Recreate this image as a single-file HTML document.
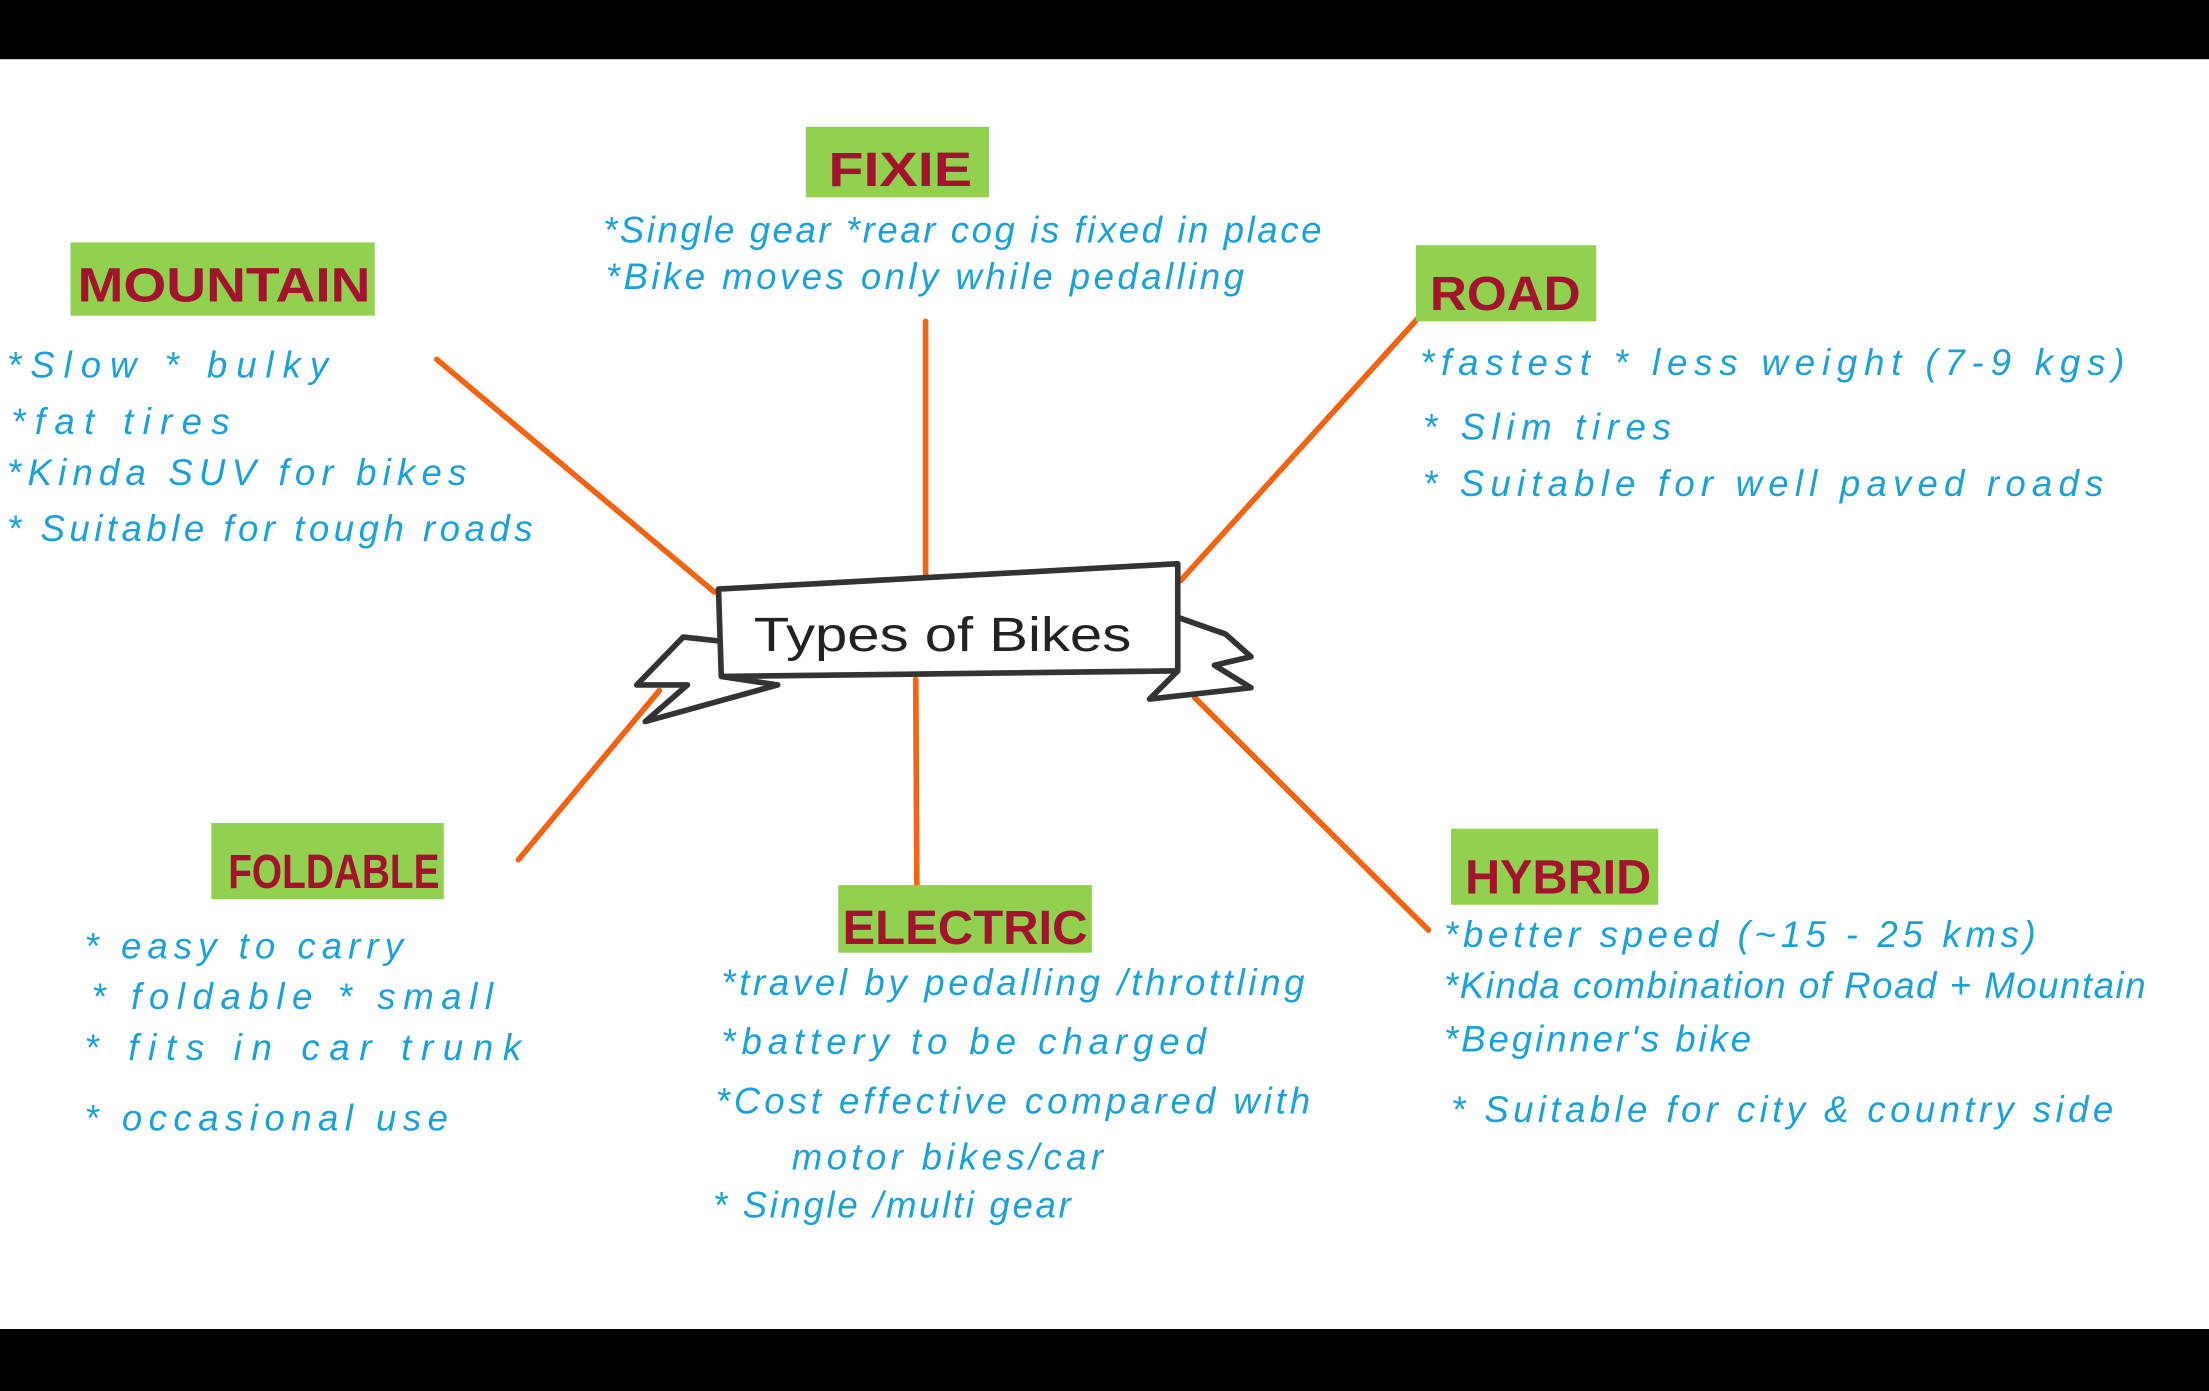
<!DOCTYPE html>
<html><head><meta charset="utf-8"><style>
html,body{margin:0;padding:0;background:#fff;width:2209px;height:1391px;overflow:hidden}
svg{display:block}
.b{fill:#1ba0d8;font-family:"Liberation Sans",sans-serif;font-size:26px;letter-spacing:2px;font-style:italic}
.h{fill:#a3122e;font-family:"Liberation Sans",sans-serif;font-weight:bold;font-size:34px}
</style></head><body>
<svg width="2209" height="1391" viewBox="0 0 1568 987" preserveAspectRatio="none" xmlns="http://www.w3.org/2000/svg">
<rect x="0" y="0" width="1568" height="987" fill="#fff"/>
<rect x="0" y="0" width="1568" height="42" fill="#000"/>
<rect x="0" y="943" width="1568" height="44" fill="#000"/>
<g stroke="#f06414" stroke-width="4" fill="none" stroke-linecap="round">
<line x1="310" y1="255" x2="507" y2="420"/>
<line x1="657" y1="228" x2="657" y2="408"/>
<line x1="1010" y1="222" x2="838" y2="412"/>
<line x1="368" y1="610" x2="468" y2="490"/>
<line x1="650" y1="482" x2="651" y2="660"/>
<line x1="848" y1="495" x2="1014" y2="660"/>
</g>
<g stroke="#333" stroke-width="4" fill="none" stroke-linejoin="round">
<path d="M510 418 L836 400 L836 476 L512 480 Z" fill="#fff"/>
<path d="M512 455 L485 452 L452 486 L488 486 L458 512 L552 486 L512 480"/>
<path d="M836 438 L870 450 L888 466 L862 472 L888 488 L816 496 L836 476"/>
</g>
<text x="535" y="462" font-family="Liberation Sans" font-size="34" fill="#222" textLength="268" lengthAdjust="spacingAndGlyphs">Types of Bikes</text>
<g fill="#92d050">
<rect x="572" y="90" width="130" height="50"/>
<rect x="50" y="172" width="216" height="52"/>
<rect x="1005" y="174" width="128" height="54"/>
<rect x="150" y="584" width="165" height="54"/>
<rect x="595" y="628" width="180" height="48"/>
<rect x="1030" y="588" width="147" height="54"/>
</g>
<text class="h" x="588" y="132" textLength="102" lengthAdjust="spacingAndGlyphs">FIXIE</text>
<text class="h" x="55" y="214" textLength="208" lengthAdjust="spacingAndGlyphs">MOUNTAIN</text>
<text class="h" x="1015" y="220" font-size="40" textLength="107" lengthAdjust="spacingAndGlyphs">ROAD</text>
<text class="h" x="162" y="630" font-size="30" textLength="150" lengthAdjust="spacingAndGlyphs">FOLDABLE</text>
<text class="h" x="598" y="670" textLength="174" lengthAdjust="spacingAndGlyphs">ELECTRIC</text>
<text class="h" x="1040" y="634" font-size="30" textLength="132" lengthAdjust="spacingAndGlyphs">HYBRID</text>
<g lengthAdjust="spacingAndGlyphs">
<text class="b" x="428" y="172" textLength="512">*Single gear  *rear cog is fixed in place</text>
<text class="b" x="430" y="205" textLength="455">*Bike moves only while pedalling</text>
<text class="b" x="5" y="268" textLength="230">*Slow  * bulky</text>
<text class="b" x="8" y="308" textLength="157">*fat  tires</text>
<text class="b" x="5" y="344" textLength="328">*Kinda  SUV for  bikes</text>
<text class="b" x="5" y="384" textLength="375">* Suitable  for  tough roads</text>
<text class="b" x="1008" y="266" textLength="502">*fastest   * less weight (7-9 kgs)</text>
<text class="b" x="1010" y="312" textLength="178">* Slim tires</text>
<text class="b" x="1010" y="352" textLength="485">* Suitable  for  well paved roads</text>
<text class="b" x="60" y="680" textLength="228">* easy  to  carry</text>
<text class="b" x="65" y="716" textLength="287">* foldable  * small</text>
<text class="b" x="60" y="752" textLength="312">* fits  in  car  trunk</text>
<text class="b" x="60" y="802" textLength="260">* occasional  use</text>
<text class="b" x="512" y="706" textLength="416">*travel  by  pedalling /throttling</text>
<text class="b" x="512" y="748" textLength="346">*battery  to  be  charged</text>
<text class="b" x="508" y="790" textLength="424">*Cost effective compared with</text>
<text class="b" x="562" y="830" textLength="223">motor  bikes/car</text>
<text class="b" x="506" y="864" textLength="256">* Single /multi  gear</text>
<text class="b" x="1025" y="672" textLength="422">*better  speed (~15 - 25 kms)</text>
<text class="b" x="1025" y="708" font-size="23" textLength="500">*Kinda  combination  of Road + Mountain</text>
<text class="b" x="1025" y="746" textLength="220">*Beginner's  bike</text>
<text class="b" x="1030" y="796" textLength="472">* Suitable  for  city &amp; country side</text>
</g>
</svg>
</body></html>
